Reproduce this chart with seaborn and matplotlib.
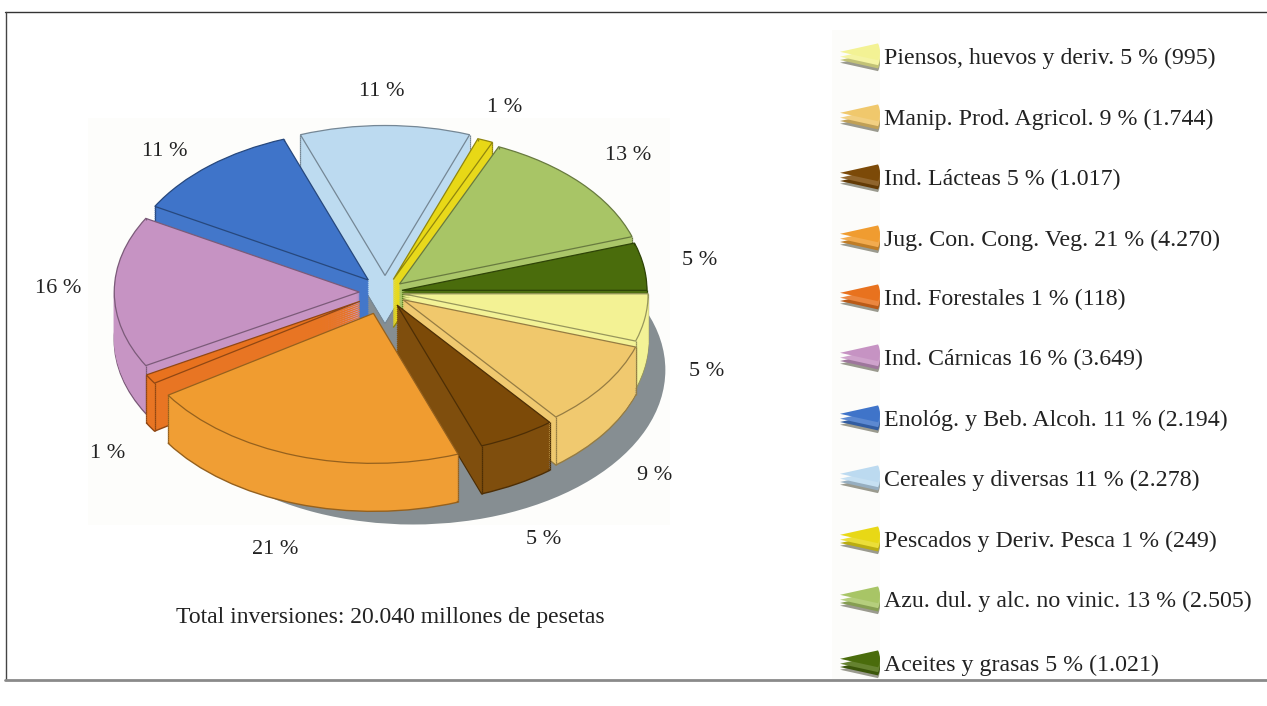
import numpy as np
import matplotlib
matplotlib.use("Agg")
import matplotlib.pyplot as plt
from matplotlib.colors import to_rgb
from matplotlib.lines import Line2D
from matplotlib.patches import Rectangle
import seaborn as sns

# DATA (counterclockwise from the right hand side)

sectors = [
    "Aceites y grasas", "Azu. dul. y alc. no vinic.", "Pescados y Deriv. Pesca",
    "Cereales y diversas", "Enológ. y Beb. Alcoh.", "Ind. Cárnicas",
    "Ind. Forestales", "Jug. Con. Cong. Veg.", "Ind. Lácteas",
    "Manip. Prod. Agricol.", "Piensos, huevos y deriv.",
]
percents = [5, 13, 1, 11, 11, 16, 1, 21, 5, 9, 5]
amounts = ["1.021", "2.505", "249", "2.278", "2.194", "3.649",
           "118", "4.270", "1.017", "1.744", "995"]
colors = ["#4a6c0c", "#a8c566", "#e8d816", "#bcdaf0", "#3f74c9", "#c693c3",
          "#e8721e", "#f09c30", "#7c4a08", "#f0c86c", "#f3f294"]
explode = [0.07, 0.08, 0.09, 0.11, 0.105, 0.105, 0.12, 0.15, 0.10, 0.09, 0.075]
title_text = "Total inversiones: 20.040 millones de pesetas"

W, H = 1267, 706

sns.set_theme(style="white")
plt.rcParams["font.family"] = ["Liberation Serif", "DejaVu Serif"]
palette = sns.color_palette(colors)


def fx(px):
    return px / W


def fy(py):
    return 1 - py / H


def darker(c, k=0.62):
    return tuple(v * k for v in to_rgb(c))


def lighter(c, k=0.02):
    return tuple(v + (1 - v) * k for v in to_rgb(c))


fig = plt.figure(figsize=(W / 100, H / 100), dpi=100, facecolor="white")

# PIE AREA

rx, ry = 245, 150
cx, cy = 385, 292
left, right, top, bottom = 88, 670, 118, 525

ax = fig.add_axes([fx(left), fy(bottom), (right - left) / W, (bottom - top) / H])

depth = 48 / ry
n_layers = 24
step = depth / n_layers

# grey shadow under the pie
ax.pie([1], colors=["#868e92"], center=(28 / rx, -78 / ry), radius=1.03,
       wedgeprops=dict(linewidth=0))

wall_colors = [lighter(c) for c in palette]
edge_colors = [darker(c) for c in palette]


def corner_edges(wedges):
    # short piece of the vertical edge just under this layer
    for w, ec in zip(wedges, edge_colors):
        for th in (w.theta1, w.theta2):
            a = np.deg2rad(th)
            x = w.center[0] + w.r * np.cos(a)
            y = w.center[1] + w.r * np.sin(a)
            ax.plot([x, x], [y, y - step], color=ec, lw=0.9, zorder=1,
                    solid_capstyle="butt")


# side walls, from the bottom layer up
for k in range(n_layers, 0, -1):
    off = -step * k
    wedges, _ = ax.pie(percents, colors=wall_colors, explode=explode,
                       center=(0, off), startangle=0, wedgeprops=dict(linewidth=0.6))
    for w, wc, ec in zip(wedges, wall_colors, edge_colors):
        if k == n_layers:
            w.set_edgecolor(ec)
            w.set_linewidth(1.0)
        else:
            w.set_edgecolor(wc)
    if k < n_layers:
        corner_edges(wedges)

# top faces
tops, _ = ax.pie(percents, colors=palette, explode=explode, center=(0, 0), startangle=0,
                 wedgeprops=dict(linewidth=0.9))
for w, ec in zip(tops, edge_colors):
    w.set_edgecolor(ec)
corner_edges(tops)

ax.set_aspect("auto")
ax.set_xlim((left - cx) / rx, (right - cx) / rx)
ax.set_ylim((cy - bottom) / ry, (cy - top) / ry)
ax.set_frame_on(True)
ax.set_xticks([])
ax.set_yticks([])
ax.set_facecolor("#fdfdfb")
sns.despine(ax=ax, left=True, bottom=True)

# PERCENT LABELS

label_pos = [(700, 259), (628, 155), (505, 107), (382, 90), (165, 150), (58, 288),
             (108, 452), (275, 548), (544, 538), (655, 475), (707, 370)]
for p, (lx, ly) in zip(percents, label_pos):
    fig.text(fx(lx), fy(ly + 1), f"{p} %", ha="center", va="center", fontsize=16, color="#222222")

fig.text(fx(390), fy(618), title_text, ha="center", va="center", fontsize=17, color="#222222")

# LEGEND

fig.add_artist(Rectangle((fx(832), fy(680)), 48 / W, 650 / H, transform=fig.transFigure,
                         facecolor="#fcfcfa", edgecolor="none", zorder=-1))

legend_y = [664, 600, 540, 479, 419, 358, 298, 239, 178, 118, 57]
icon_angle = 36
for name, p, amt, c, ly in zip(sectors, percents, amounts, palette, legend_y):
    iax = fig.add_axes([fx(836), fy(ly + 15), 46 / W, 30 / H])
    layers = [(-0.36, "#9a9a8e"), (-0.26, darker(c, 0.8)), (-0.14, lighter(c, 0.15)), (0.04, c)]
    for off, col in layers:
        iax.pie([icon_angle, 360 - icon_angle], colors=[col, "none"], startangle=-icon_angle / 2,
                center=(0, off), wedgeprops=dict(linewidth=0))
    iax.set_aspect("auto")
    iax.set_xlim(-0.1, 1.05)
    iax.set_ylim(-0.7, 0.4)
    iax.set_axis_off()
    fig.text(fx(884), fy(ly + 1), f"{name} {p} % ({amt})", ha="left", va="center",
             fontsize=17.2, color="#222222")

# FRAME

frame = [([5, W], [12, 12], "#333333", 1.0),
         ([6, 6], [12, 680], "#444444", 1.0),
         ([5, W], [680, 680], "#8a8a8a", 2.0)]
for xs, ys, col, lw in frame:
    fig.add_artist(Line2D([fx(v) for v in xs], [fy(v) for v in ys], color=col, lw=lw,
                          transform=fig.transFigure))

fig.savefig("out.png", dpi=100)
